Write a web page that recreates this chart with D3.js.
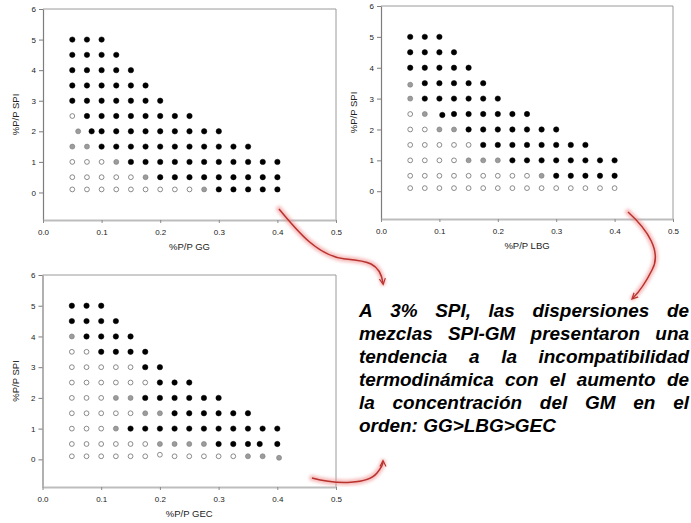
<!DOCTYPE html>
<html>
<head>
<meta charset="utf-8">
<script src="https://cdn.jsdelivr.net/npm/d3@7"></script>
<style>
  body { margin: 0; background: #fff; overflow: hidden; }
  svg { display: block; }
</style>
</head>
<body>
<svg id="chart" width="691" height="523"></svg>
<script>
// composition grid (%P/P gum on x, %P/P SPI on y)
const xGrid = [0.05, 0.075, 0.1, 0.125, 0.15, 0.175, 0.2, 0.225, 0.25, 0.275, 0.3, 0.325, 0.35, 0.375, 0.4];
const yGrid = [0.1, 0.5, 1, 1.5, 2, 2.5, 3, 3.5, 4, 4.5, 5];
const xTicks = [0, 0.1, 0.2, 0.3, 0.4, 0.5];
const yTicks = [0, 1, 2, 3, 4, 5, 6];

// o = open circle, g = grey, b = black ; one string per row, bottom row first
const ggStates = [
  'ooooooooogbbbbb',
  'ooooogbbbbbbbbb',
  'ooogbbbbbbbbbbb',
  'ggbbbbbbbbbbb',
  'gbbbbbbbbbb',
  'obbbbbbbb',
  'bbbbbbb',
  'bbbbbb',
  'bbbbb',
  'bbbb',
  'bbb'
];
const lbgStates = [
  'ooooooooooooooo',
  'ooooooooogbbbbb',
  'oooogggbbbbbbbb',
  'ooooobbbbbbbb',
  'ooggbbbbbbb',
  'ogbbbbbbb',
  'gbbbbbb',
  'gbbbbb',
  'bbbbb',
  'bbbb',
  'bbb'
];
const gecStates = [
  'ooooooooooooggg',
  'ooooooggggbbbbb',
  'ooogbbbbbbbbbbb',
  'oooooggbbbbbb',
  'oooggbbbbbb',
  'oooooobbb',
  'ooooobb',
  'oobbbb',
  'gbbbb',
  'bbbb',
  'bbb'
];

// points that sit a little off the grid in the original
const ggShifted = [{ row: 4, col: 0, x: 0.06 }, { row: 4, col: 1, x: 0.083 }];
const lbgShifted = [{ row: 5, col: 2, x: 0.105, y: 2.47 }, { row: 7, col: 0, y: 3.45 }];
const gecShifted = [{ row: 0, col: 6, y: 0.15 }, { row: 0, col: 14, x: 0.403, y: 0.05 }, { row: 1, col: 13, x: 0.37 }];

const noteLines = [
  'A 3% SPI, las dispersiones de',
  'mezclas SPI-GM presentaron una',
  'tendencia a la incompatibilidad',
  'termodinámica con el aumento de',
  'la concentración del GM en el',
  'orden: GG>LBG>GEC'
];

const panels = [
  { title: '%P/P GG', states: ggStates, shifted: ggShifted, left: 43, right: 336, top: 9, bottom: 220 },
  { title: '%P/P LBG', states: lbgStates, shifted: lbgShifted, left: 381, right: 673, top: 6, bottom: 219 },
  { title: '%P/P GEC', states: gecStates, shifted: gecShifted, left: 42.5, right: 336, top: 275, bottom: 487 }
];

const svg = d3.select('#chart');
const axisFont = 'Liberation Sans, Arial, sans-serif';

const dotStyle = {
  b: { r: 2.7, fill: '#000', stroke: '#000', sw: 0.5 },
  g: { r: 2.5, fill: '#9c9c9c', stroke: '#7a7a7a', sw: 0.6 },
  o: { r: 2.4, fill: '#fff', stroke: '#6e6e6e', sw: 0.8 }
};

panels.forEach(p => {
  const x = d3.scaleLinear().domain([0, 0.5]).range([p.left, p.right]);
  const y = d3.scaleLinear().domain([-0.9, 6]).range([p.bottom, p.top]);
  const g = svg.append('g');

  // frame (top / right)
  g.append('line').attr('x1', p.left).attr('x2', p.right).attr('y1', p.top).attr('y2', p.top)
    .attr('stroke', '#9a9a9a').attr('stroke-width', 1);
  g.append('line').attr('x1', p.right).attr('x2', p.right).attr('y1', p.top).attr('y2', p.bottom)
    .attr('stroke', '#9a9a9a').attr('stroke-width', 1);

  // y axis
  g.append('g')
    .attr('transform', `translate(${p.left},0)`)
    .call(d3.axisLeft(y).tickValues(yTicks).tickSize(4).tickSizeOuter(0).tickPadding(3).tickFormat(d3.format('d')))
    .call(a => a.select('.domain').attr('stroke', '#7d7d7d').attr('stroke-width', 1.2))
    .call(a => a.selectAll('.tick line').attr('stroke', '#7d7d7d'))
    .call(a => a.selectAll('text').attr('font-family', axisFont).attr('font-size', 8).attr('fill', '#222'));

  // x axis
  g.append('g')
    .attr('transform', `translate(0,${p.bottom})`)
    .call(d3.axisBottom(x).tickValues(xTicks).tickSize(3).tickSizeOuter(0).tickPadding(6).tickFormat(d3.format('.1f')))
    .call(a => a.select('.domain').attr('stroke', '#bdbdbd').attr('stroke-width', 2))
    .call(a => a.selectAll('.tick line').attr('stroke', '#8a8a8a'))
    .call(a => a.selectAll('text').attr('font-family', axisFont).attr('font-size', 8).attr('fill', '#222'));

  // axis titles
  g.append('text')
    .attr('x', (p.left + p.right) / 2)
    .attr('y', p.bottom + 30)
    .attr('text-anchor', 'middle')
    .attr('font-family', axisFont).attr('font-size', 9.5).attr('fill', '#222')
    .text(p.title);
  g.append('text')
    .attr('transform', `translate(${p.left - 24},${(p.top + p.bottom) / 2}) rotate(-90)`)
    .attr('text-anchor', 'middle')
    .attr('font-family', axisFont).attr('font-size', 9.5).attr('fill', '#222')
    .text('%P/P SPI');

  // points
  const pts = [];
  p.states.forEach((row, ri) => {
    row.split('').forEach((s, ci) => {
      const sh = p.shifted.find(d => d.row === ri && d.col === ci) || {};
      pts.push({ x: sh.x ?? xGrid[ci], y: sh.y ?? yGrid[ri], s });
    });
  });
  g.selectAll('circle.pt').data(pts).enter().append('circle')
    .attr('class', 'pt')
    .attr('cx', d => x(d.x))
    .attr('cy', d => y(d.y))
    .attr('r', d => dotStyle[d.s].r)
    .attr('fill', d => dotStyle[d.s].fill)
    .attr('stroke', d => dotStyle[d.s].stroke)
    .attr('stroke-width', d => dotStyle[d.s].sw);
});

// note text, justified; font size fitted so the last line is as wide as in the slide
const note = svg.append('g')
  .attr('font-family', 'Liberation Sans, Arial, sans-serif')
  .attr('font-weight', 'bold').attr('font-style', 'italic')
  .attr('fill', '#000');
const noteLeft = 359, noteRight = 689, noteTop = 317, noteStep = 23;
const probe = note.append('text').attr('font-size', 16).text(noteLines[noteLines.length - 1]);
const noteSize = 16 * 197 / probe.node().getComputedTextLength();
probe.remove();
note.attr('font-size', noteSize.toFixed(2));

noteLines.forEach((line, i) => {
  const words = line.split(' ');
  const ty = noteTop + i * noteStep;
  const nodes = words.map(w => note.append('text').attr('y', ty).text(w));
  const widths = nodes.map(n => n.node().getComputedTextLength());
  const total = d3.sum(widths);
  const last = i === noteLines.length - 1;
  const gap = last ? noteSize * 0.28 : (noteRight - noteLeft - total) / (words.length - 1);
  let cx = noteLeft;
  nodes.forEach((n, k) => { n.attr('x', cx); cx += widths[k] + gap; });
});

// red arrows
const defs = svg.append('defs');
defs.append('filter').attr('id', 'glow').attr('x', '-20%').attr('y', '-20%').attr('width', '140%').attr('height', '140%')
  .append('feGaussianBlur').attr('stdDeviation', 1.6);
defs.append('marker').attr('id', 'head').attr('viewBox', '0 0 10 10')
  .attr('refX', 6).attr('refY', 5).attr('markerWidth', 5).attr('markerHeight', 5).attr('orient', 'auto')
  .append('path').attr('d', 'M0,1 L8,5 L0,9').attr('fill', 'none').attr('stroke', '#b8322e').attr('stroke-width', 1.6);

const arrows = [
  'M279,209 C298,232 318,256 345,259 C366,261 380,262 383,283',
  'M628,212 C648,230 662,252 652,270 C646,282 640,291 633,298',
  'M312,478 C338,485 368,484 377,473 C381,468 383,465 383,462'
];
arrows.forEach(d => {
  svg.append('path').attr('d', d).attr('fill', 'none')
    .attr('stroke', '#f08a8a').attr('stroke-opacity', 0.55).attr('stroke-width', 6)
    .attr('stroke-linecap', 'round').attr('filter', 'url(#glow)');
  svg.append('path').attr('d', d).attr('fill', 'none')
    .attr('stroke', '#b8322e').attr('stroke-width', 1.5)
    .attr('marker-end', 'url(#head)');
});
</script>
</body>
</html>
